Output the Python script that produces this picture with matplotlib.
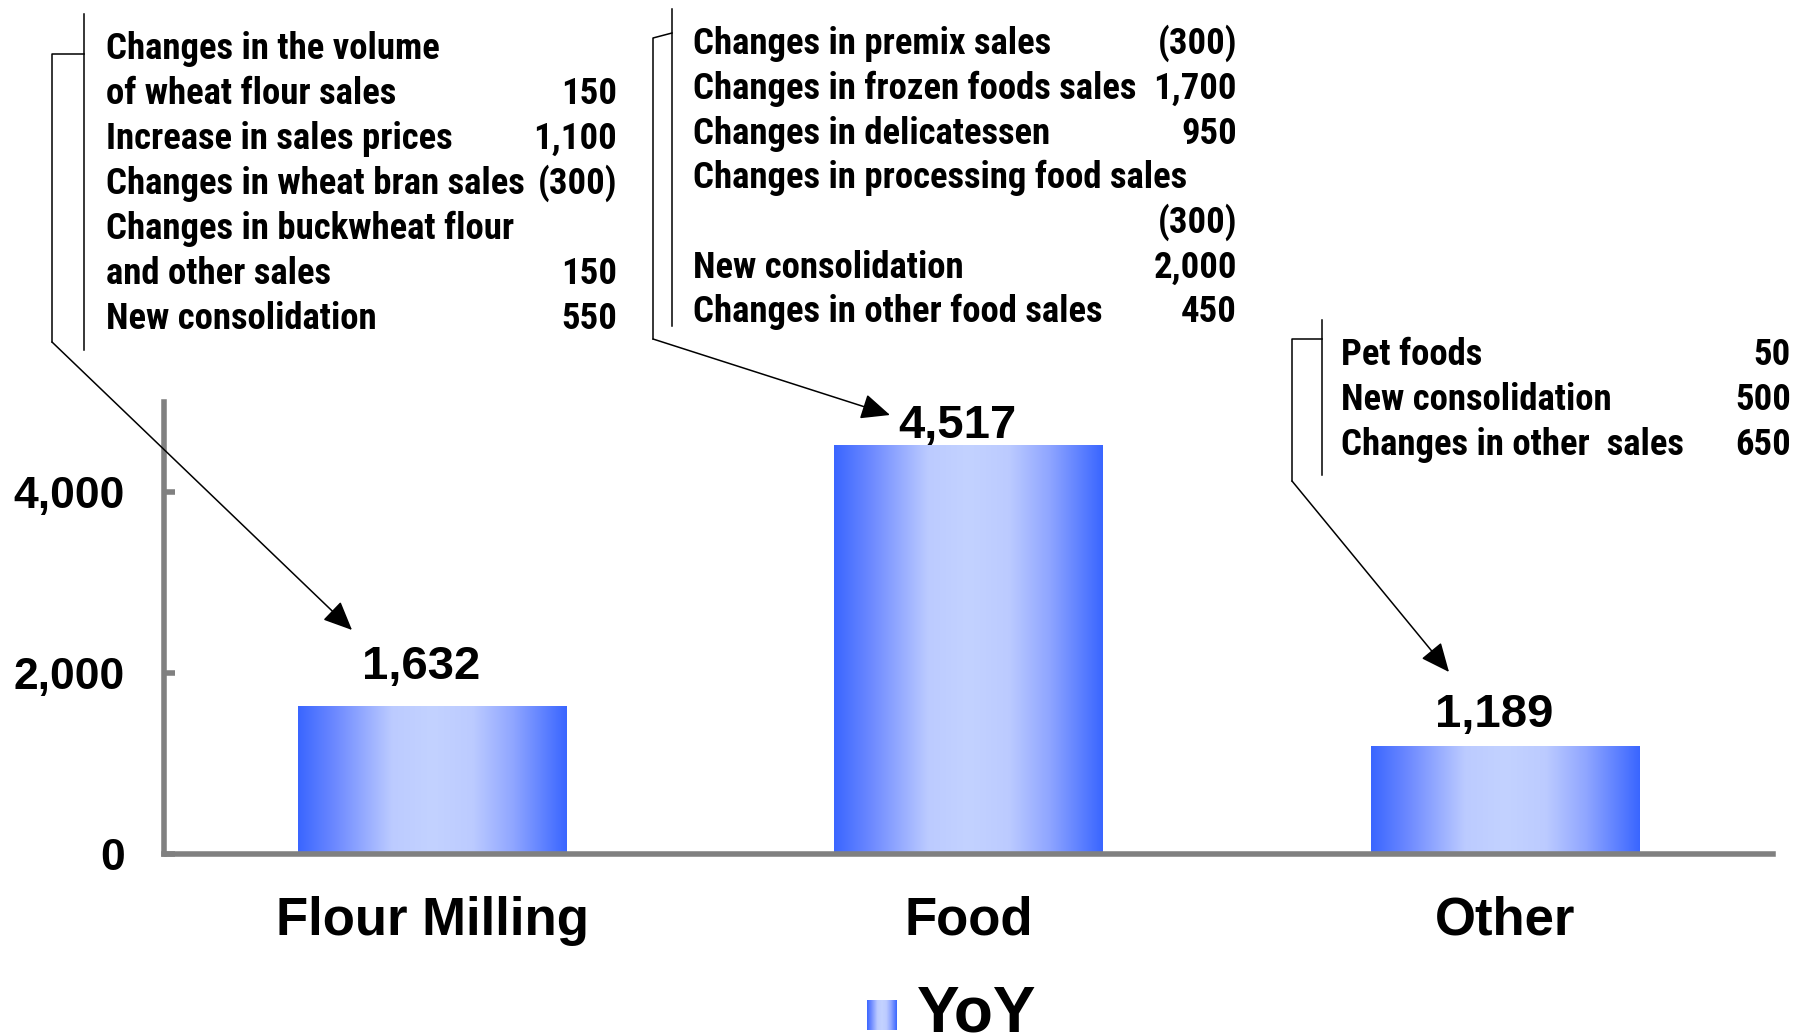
import numpy as np
import matplotlib
matplotlib.use("Agg")
from matplotlib import pyplot as plt
from matplotlib import font_manager
from matplotlib.colors import LinearSegmentedColormap
from matplotlib.lines import Line2D
from matplotlib.patches import FancyArrowPatch
from matplotlib.ticker import FuncFormatter

# year-on-year change by segment
segments = ["Flour Milling", "Food", "Other"]
yoy = [1632, 4517, 1189]

# breakdown notes for each segment
flour_items = ["Changes in the volume", "of wheat flour sales", "Increase in sales prices",
               "Changes in wheat bran sales", "Changes in buckwheat flour",
               "and other sales", "New consolidation"]
flour_amounts = ["", "150", "1,100", "(300)", "", "150", "550"]

food_items = ["Changes in premix sales", "Changes in frozen foods sales",
              "Changes in delicatessen", "Changes in processing food sales", "",
              "New consolidation", "Changes in other food sales"]
food_amounts = ["(300)", "1,700", "950", "", "(300)", "2,000", "450"]

other_items = ["Pet foods", "New consolidation", "Changes in other  sales"]
other_amounts = ["50", "500", "650"]

W, H = 1808, 1035
plt.rcParams['font.family'] = ['Liberation Sans', 'DejaVu Sans']


def narrow_family():
    # prefer a condensed face for the note text if one is installed
    for name in ['Liberation Sans Narrow', 'Arial Narrow', 'Roboto Condensed']:
        try:
            font_manager.findfont(font_manager.FontProperties(family=name, weight='bold'),
                                  fallback_to_default=False)
            return name
        except ValueError:
            pass
    return 'Liberation Sans'


NARROW = narrow_family()


def fx(x):
    return x / W


def fy(y):
    return 1 - y / H


fig = plt.figure(figsize=(W / 100, H / 100), dpi=100)
ax = fig.add_axes([fx(164), fy(854), fx(1773) - fx(164), fy(401.5) - fy(854)])

# horizontal shading used for bars and legend key
blue = LinearSegmentedColormap.from_list('barfill', [
    (0.0, '#3A66FF'), (0.14, '#6E8AFF'), (0.35, '#BCCBFF'), (0.5, '#C3D2FF'),
    (0.65, '#BCCBFF'), (0.8, '#90A6FF'), (1.0, '#3A66FF')])
grad = np.linspace(0, 1, 256).reshape(1, -1)

x = np.arange(len(segments))
bars = ax.bar(x, yoy, width=0.5, color='none', edgecolor='none')
for b in bars:
    ax.imshow(grad, cmap=blue, aspect='auto', interpolation='bilinear', zorder=2,
              extent=(b.get_x(), b.get_x() + b.get_width(), 0, b.get_height()))

# value labels above bars (gap in points)
label_gap = [20, 5, 14]
for xi, v, g in zip(x, yoy, label_gap):
    ax.annotate(f"{v:,}", (xi, v), xytext=(-8, g), textcoords='offset points',
                ha='center', va='baseline', fontsize=34, fontweight='bold')

ax.set_xlim(-0.5, 2.5)
ax.set_ylim(0, 5000)
for s in ['top', 'right']:
    ax.spines[s].set_visible(False)
for s in ['left', 'bottom']:
    ax.spines[s].set_color('#808080')
    ax.spines[s].set_linewidth(4)
ax.set_yticks([0, 2000, 4000])
ax.yaxis.set_major_formatter(FuncFormatter(lambda v, p: f"{int(v):,}"))
ax.tick_params(axis='y', direction='in', length=8, width=4, color='#808080',
               pad=28, labelsize=32)
ax.set_xticks(x)
ax.set_xticklabels(segments)
ax.tick_params(axis='x', length=0, pad=30, labelsize=38)
for lbl in ax.get_xticklabels() + ax.get_yticklabels():
    lbl.set_fontweight('bold')

# size the note text so the widest line keeps its width
probe = fig.text(0, 0, "Changes in wheat bran sales", fontsize=20, family=NARROW,
                 fontweight='bold')
probe_w = probe.get_window_extent(fig.canvas.get_renderer()).width
probe.remove()
note_size = 20 * 419 / probe_w


def note_block(items, amounts, left, right, first_base, step):
    for i, (t, a) in enumerate(zip(items, amounts)):
        yb = first_base + i * step
        fig.text(fx(left), fy(yb), t, ha='left', va='baseline', fontsize=note_size,
                 family=NARROW, fontweight='bold')
        fig.text(fx(right), fy(yb), a, ha='right', va='baseline', fontsize=note_size,
                 family=NARROW, fontweight='bold')


def bracket(inner_x, inner_top, inner_bot, outer_x, join_outer, join_inner, outer_bot, tip):
    kw = dict(color='black', lw=1.1, transform=fig.transFigure)
    fig.add_artist(Line2D([fx(inner_x)] * 2, [fy(inner_top), fy(inner_bot)], **kw))
    fig.add_artist(Line2D([fx(inner_x), fx(outer_x), fx(outer_x)],
                          [fy(join_inner), fy(join_outer), fy(outer_bot)], **kw))
    fig.add_artist(FancyArrowPatch((fx(outer_x), fy(outer_bot)), (fx(tip[0]), fy(tip[1])),
                                   transform=fig.transFigure,
                                   arrowstyle='-|>,head_length=1.8,head_width=0.8',
                                   mutation_scale=10, color='black', lw=1.1,
                                   shrinkA=0, shrinkB=0))


note_block(flour_items, flour_amounts, 106, 617, 59, 45)
note_block(food_items, food_amounts, 693, 1237, 54, 44.75)
note_block(other_items, other_amounts, 1341, 1791, 365, 45)

bracket(84, 14, 350, 52, 54, 54, 342, (352, 630))
bracket(672, 9, 326, 653, 38, 33, 339, (890, 415))
bracket(1322, 320, 475, 1292, 339, 339, 481, (1449, 672))

# legend key
lax = fig.add_axes([fx(867), fy(1030), fx(897) - fx(867), fy(1000) - fy(1030)])
lax.imshow(grad, cmap=blue, aspect='auto', interpolation='bilinear')
lax.axis('off')
fig.text(fx(917), fy(1031), "YoY", fontsize=46, fontweight='bold', va='baseline')

fig.savefig('out.png', dpi=100)
